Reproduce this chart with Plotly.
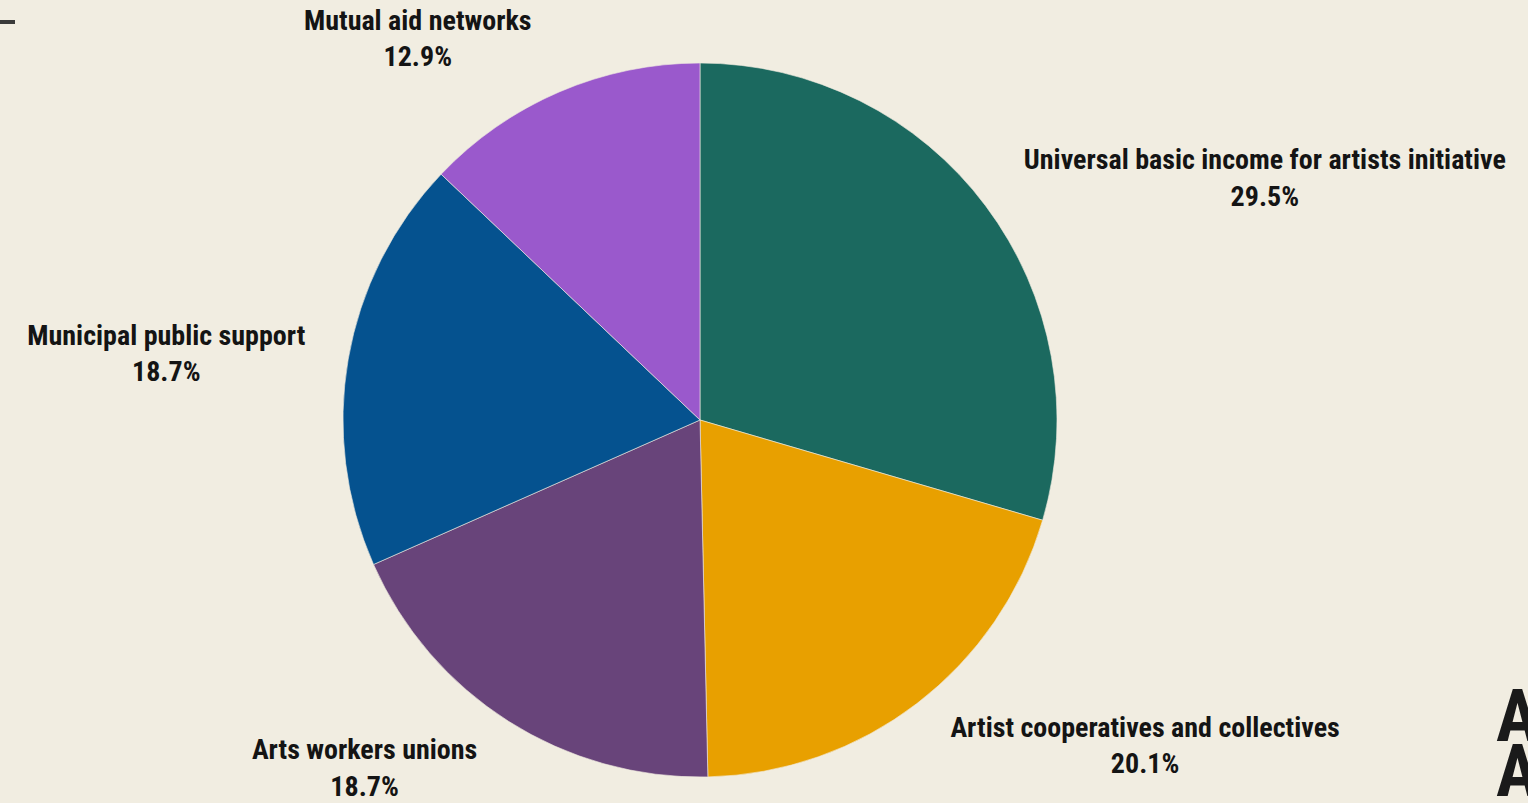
import plotly.graph_objects as go

# Share of support for each funding model (percent)
categories = [
    "Universal basic income for artists initiative",
    "Artist cooperatives and collectives",
    "Arts workers unions",
    "Municipal public support",
    "Mutual aid networks",
]
shares = [29.5, 20.1, 18.7, 18.7, 12.9]
slice_colors = ["#1b695f", "#e8a000", "#68447a", "#05528f", "#9a59cc"]

BG = "#f1ede1"
LABEL_FONT = "Roboto Condensed, Liberation Sans Narrow, DejaVu Sans Condensed, Roboto, sans-serif"

W, H = 1528, 803
M = dict(l=0, r=128, t=37, b=0)
PW, PH = W - M["l"] - M["r"], H - M["t"] - M["b"]

# visible pie: radius 357 px, centred in the plot area horizontally
PIE_R = 357
pie_y = [(PH / 2 - PIE_R) / PH, 1 - (PH / 2 - PIE_R) / PH]


def px(x):
    return (x - M["l"]) / PW


def py(y):
    return (H - M["b"] - y) / PH


fig = go.Figure()

# coloured slices, no text
fig.add_trace(go.Pie(
    labels=categories,
    values=shares,
    sort=False,
    direction="clockwise",
    rotation=0,
    marker=dict(colors=slice_colors, line=dict(color="rgba(241,237,225,0.6)", width=1)),
    textinfo="none",
    hoverinfo="label+value",
    showlegend=False,
    domain=dict(x=[0, 1], y=pie_y),
))

# transparent, slightly larger ring that carries the outside labels
fig.add_trace(go.Pie(
    labels=categories,
    values=shares,
    sort=False,
    direction="clockwise",
    rotation=0,
    marker=dict(colors=["rgba(0,0,0,0)"] * len(categories), line=dict(width=0)),
    textposition="outside",
    texttemplate="<b>%{label}</b><br><b>%{value:.1f}%</b>",
    textfont=dict(family=LABEL_FONT, size=28, color="#141414"),
    hoverinfo="skip",
    showlegend=False,
    domain=dict(x=[0, 1], y=[0, 1]),
))

fig.update_layout(
    width=W,
    height=H,
    paper_bgcolor=BG,
    plot_bgcolor=BG,
    margin=dict(**M, autoexpand=False),
    shapes=[
        # short rule in the top-left corner
        dict(type="line", xref="paper", yref="paper", x0=px(0), x1=px(15),
             y0=py(22), y1=py(22), line=dict(color="#3a3a3a", width=4)),
    ],
    annotations=[
        dict(text="<b>A</b>", xref="paper", yref="paper",
             x=px(1494), y=py(716), xanchor="left", yanchor="middle",
             showarrow=False, font=dict(family=LABEL_FONT, size=72, color="#1a1a1a")),
        dict(text="<b>A</b>", xref="paper", yref="paper",
             x=px(1494), y=py(771), xanchor="left", yanchor="middle",
             showarrow=False, font=dict(family=LABEL_FONT, size=72, color="#1a1a1a")),
    ],
)

fig.write_html("out.html")
